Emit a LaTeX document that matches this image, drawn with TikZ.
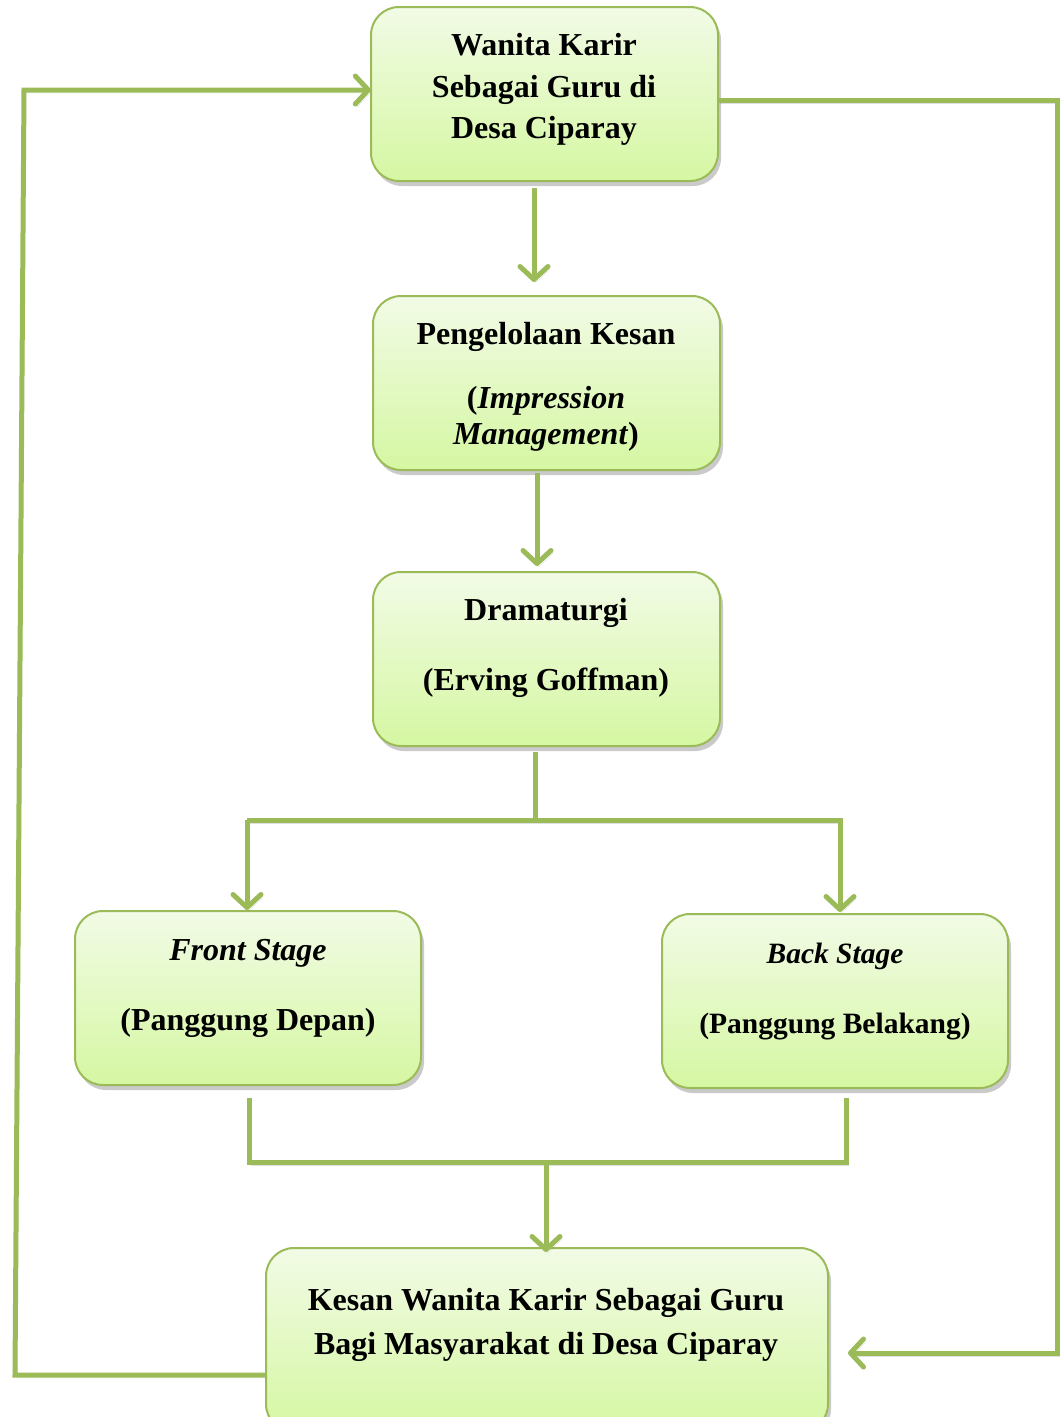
\documentclass[tikz,border=0pt]{standalone}
\usepackage{fontspec}
\setmainfont{Liberation Serif}
\usetikzlibrary{arrows.meta,shadows}
\definecolor{lineg}{HTML}{9BBB59}
\definecolor{topg}{HTML}{F2FBE6}
\definecolor{botg}{HTML}{D5F7A2}
\tikzset{
  box/.style={draw=lineg, line width=2pt, rounded corners=28pt, top color=topg, bottom color=botg,
    drop shadow={shadow xshift=3pt, shadow yshift=-5pt, opacity=0.35, fill=black!60}},
  conn/.style={draw=lineg, line width=5pt,
    preaction={draw=black, opacity=0.12, transform canvas={shift={(2pt,-3pt)}}}},
  tip/.style={-{Straight Barb[length=13pt,width=28pt,round]}},
  txt/.style={anchor=base, font=\fontsize{32}{38}\selectfont\bfseries, inner sep=0pt},
  txts/.style={anchor=base, font=\fontsize{29.5}{36}\selectfont\bfseries, inner sep=0pt}
}
\begin{document}
\begin{tikzpicture}[x=1pt,y=-1pt]
\useasboundingbox (0,0) rectangle (1060,1417);
% boxes
\path[box] (371,7) rectangle (718,181) coordinate[pos=0.5] (b1c);
\node[inner sep=0pt, minimum width=347pt, minimum height=174pt] (b1) at (544.5,94) {};
\path[box] (373,296) rectangle (720,470);
\node[inner sep=0pt, minimum width=347pt, minimum height=174pt] (b2) at (546.5,383) {};
\path[box] (373,572) rectangle (720,746);
\node[inner sep=0pt, minimum width=347pt, minimum height=174pt] (b3) at (546.5,659) {};
\path[box] (75,911) rectangle (421,1085);
\node[inner sep=0pt, minimum width=346pt, minimum height=174pt] (b4) at (248,998) {};
\path[box] (662,914) rectangle (1008,1088);
\node[inner sep=0pt, minimum width=346pt, minimum height=174pt] (b5) at (835,1001) {};
\path[box] (266,1248) rectangle (828,1432);
\node[inner sep=0pt, minimum width=562pt, minimum height=184pt] (b6) at (547,1340) {};
% texts
\node[txt] (t1a) at (544,55) {Wanita Karir};
\node[txt] (t1b) at (544,97) {Sebagai Guru di};
\node[txt] (t1c) at (544,138) {Desa Ciparay};
\node[txt] (t2a) at (546,344) {Pengelolaan Kesan};
\node[txt] (t2b) at (546,408) {(\textit{Impression}};
\node[txt] (t2c) at (546,444) {\textit{Management})};
\node[txt] (t3a) at (546,620) {Dramaturgi};
\node[txt] (t3b) at (546,690) {(Erving Goffman)};
\node[txt] (t4a) at (248,960) {\textit{Front Stage}};
\node[txt] (t4b) at (248,1030) {(Panggung Depan)};
\node[txts] (t5a) at (835,963) {\textit{Back Stage}};
\node[txts] (t5b) at (835,1033) {(Panggung Belakang)};
\node[txt] (t6a) at (546,1310) {Kesan Wanita Karir Sebagai Guru};
\node[txt] (t6b) at (546,1354) {Bagi Masyarakat di Desa Ciparay};
% junction coordinates
\coordinate (j1) at (535,820);
\coordinate (j1l) at (247,820);
\coordinate (j1r) at (840,820);
\coordinate (j2) at (546,1162);
\coordinate (j2l) at (249,1162);
\coordinate (j2r) at (846,1162);
\coordinate (lb) at (15,1375);
\coordinate (lt) at (24,90);
\coordinate (rt) at (1057,100);
\coordinate (rb) at (1057,1353);
% connectors
\draw[conn,tip] (534,188) -- (534,282);
\draw[conn,tip] (537,473) -- (537,566);
\draw[conn] (535,752) -- (j1);
\draw[conn,tip] (j1l) -- (j1) -- (j1r) -- (840,912);
\draw[conn,tip] (j1l) -- (247,910);
\draw[conn] (249,1098) -- (j2l) -- (j2r) -- (846,1098);
\draw[conn,tip] (j2) -- (546,1252);
\draw[conn,tip] (b6.west |- lb) -- (lb) -- (lt) -- (b1.west |- lt);
\draw[conn,tip] (b1.east |- rt) -- (rt) -- (rb) -- (848,1353);
\end{tikzpicture}
\end{document}
